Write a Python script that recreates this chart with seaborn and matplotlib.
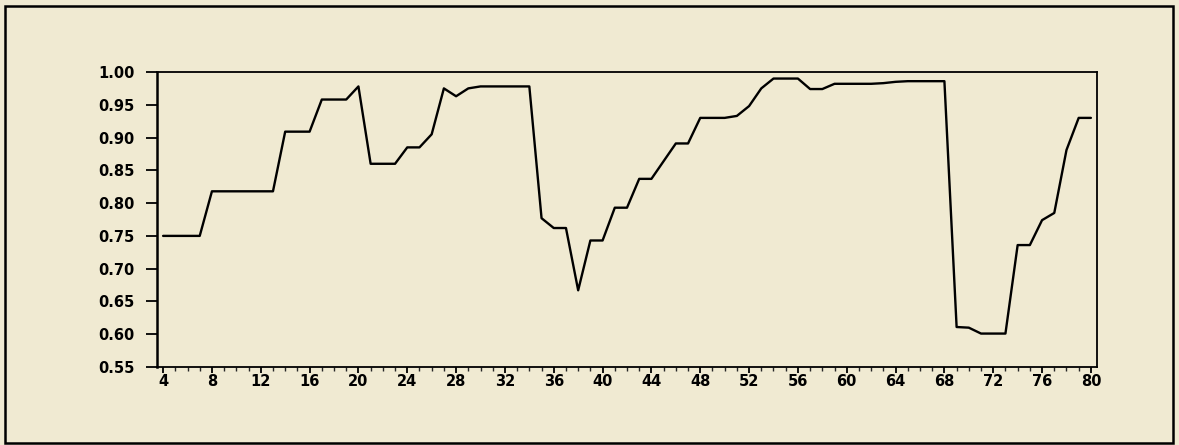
import numpy as np
import pandas as pd
import seaborn as sns
import matplotlib
matplotlib.use("Agg")
import matplotlib.pyplot as plt
from matplotlib.ticker import MultipleLocator, FormatStrFormatter
from matplotlib.patches import Rectangle

# Observation index and the series value at each observation
obs = list(range(4, 81))
values = [
    0.750, 0.750, 0.750, 0.750,                      # 4-7
    0.818, 0.818, 0.818, 0.818, 0.818, 0.818,        # 8-13
    0.909, 0.909, 0.909,                             # 14-16
    0.958, 0.958, 0.958,                             # 17-19
    0.978,                                           # 20
    0.860, 0.860, 0.860,                             # 21-23
    0.885, 0.885,                                    # 24-25
    0.905, 0.975, 0.963, 0.975,                      # 26-29
    0.978, 0.978, 0.978, 0.978, 0.978,               # 30-34
    0.777, 0.762, 0.762,                             # 35-37
    0.667,                                           # 38
    0.743, 0.743,                                    # 39-40
    0.793, 0.793,                                    # 41-42
    0.837, 0.837,                                    # 43-44
    0.864, 0.891, 0.891,                             # 45-47
    0.930, 0.930, 0.930, 0.933,                      # 48-51
    0.948, 0.975, 0.990, 0.990, 0.990,               # 52-56
    0.974, 0.974,                                    # 57-58
    0.982, 0.982, 0.982, 0.982, 0.983,               # 59-63
    0.985, 0.986, 0.986, 0.986, 0.986,               # 64-68
    0.611, 0.610, 0.601, 0.601, 0.601,               # 69-73
    0.736, 0.736, 0.774, 0.785, 0.881,               # 74-78
    0.930, 0.930,                                    # 79-80
]
y_ticks = [0.55, 0.60, 0.65, 0.70, 0.75, 0.80, 0.85, 0.90, 0.95, 1.00]

df = pd.DataFrame({"obs": obs, "value": values})

bg = "#f0ead2"
sns.set_theme(style="ticks")
plt.rcParams["font.family"] = ["DejaVu Sans"]

fig = plt.figure(figsize=(11.79, 4.45), dpi=100, facecolor=bg)
ax = fig.add_axes([157 / 1179, 78 / 445, 940 / 1179, 295 / 445])
ax.set_facecolor(bg)

sns.lineplot(data=df, x="obs", y="value", color="black", linewidth=1.7, ax=ax)

ax.set_xlim(3.5, 80.5)
ax.set_ylim(0.55, 1.00)
ax.set_yticks(y_ticks)
ax.yaxis.set_major_formatter(FormatStrFormatter("%.2f"))
ax.xaxis.set_major_locator(MultipleLocator(4))
ax.xaxis.set_minor_locator(MultipleLocator(1))
ax.set_xlabel("")
ax.set_ylabel("")

for side in ["left", "right", "top", "bottom"]:
    ax.spines[side].set_visible(True)
    ax.spines[side].set_color("black")
    ax.spines[side].set_linewidth(1.3)
ax.spines["left"].set_linewidth(1.8)

ax.tick_params(axis="y", which="major", direction="out", length=8, width=1.3,
               pad=8, labelsize=10.5, colors="black")
ax.tick_params(axis="x", which="major", direction="out", length=4, width=1.3,
               pad=1, labelsize=10.5, colors="black")
ax.tick_params(axis="x", which="minor", direction="out", length=3, width=1.0)
for lab in ax.get_xticklabels() + ax.get_yticklabels():
    lab.set_fontweight("bold")

# Outer border around the whole panel
fig.patches.append(Rectangle((5 / 1179, 2 / 445), 1168 / 1179, 437 / 445,
                             transform=fig.transFigure, fill=False,
                             edgecolor="black", linewidth=1.8))

fig.savefig("out.png", dpi=100, facecolor=bg)
